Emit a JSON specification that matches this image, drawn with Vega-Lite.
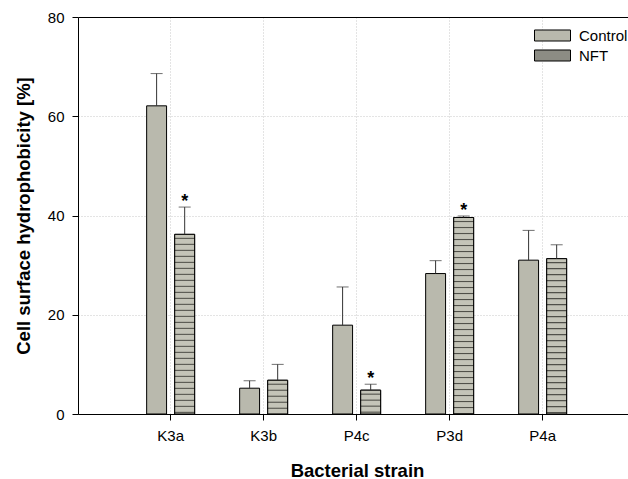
{
  "$schema": "https://vega.github.io/schema/vega-lite/v6.json",
  "width": 550,
  "height": 397,
  "autosize": {"type": "none"},
  "padding": {"left": 78, "top": 17, "right": 0, "bottom": 65},
  "background": "white",
  "config": {
    "font": "Liberation Sans",
    "view": {"stroke": null},
    "axis": {"labelColor": "black", "titleColor": "black", "domainColor": "black", "tickColor": "black", "domainWidth": 1, "tickWidth": 1}
  },
  "params": [
    {"name": "stripes", "value": [
      {"offset":0,"color":"#c4c4b8"},{"offset":0.0147,"color":"#c4c4b8"},{"offset":0.0191,"color":"#45453f"},{"offset":0.025,"color":"#c4c4b8"},
      {"offset":0.0294,"color":"#c4c4b8"},{"offset":0.0441,"color":"#c4c4b8"},{"offset":0.0485,"color":"#45453f"},{"offset":0.0544,"color":"#c4c4b8"},
      {"offset":0.0588,"color":"#c4c4b8"},{"offset":0.0735,"color":"#c4c4b8"},{"offset":0.0779,"color":"#45453f"},{"offset":0.0838,"color":"#c4c4b8"},
      {"offset":0.0882,"color":"#c4c4b8"},{"offset":0.1029,"color":"#c4c4b8"},{"offset":0.1074,"color":"#45453f"},{"offset":0.1132,"color":"#c4c4b8"},
      {"offset":0.1176,"color":"#c4c4b8"},{"offset":0.1324,"color":"#c4c4b8"},{"offset":0.1368,"color":"#45453f"},{"offset":0.1426,"color":"#c4c4b8"},
      {"offset":0.1471,"color":"#c4c4b8"},{"offset":0.1618,"color":"#c4c4b8"},{"offset":0.1662,"color":"#45453f"},{"offset":0.1721,"color":"#c4c4b8"},
      {"offset":0.1765,"color":"#c4c4b8"},{"offset":0.1912,"color":"#c4c4b8"},{"offset":0.1956,"color":"#45453f"},{"offset":0.2015,"color":"#c4c4b8"},
      {"offset":0.2059,"color":"#c4c4b8"},{"offset":0.2206,"color":"#c4c4b8"},{"offset":0.225,"color":"#45453f"},{"offset":0.2309,"color":"#c4c4b8"},
      {"offset":0.2353,"color":"#c4c4b8"},{"offset":0.25,"color":"#c4c4b8"},{"offset":0.2544,"color":"#45453f"},{"offset":0.2603,"color":"#c4c4b8"},
      {"offset":0.2647,"color":"#c4c4b8"},{"offset":0.2794,"color":"#c4c4b8"},{"offset":0.2838,"color":"#45453f"},{"offset":0.2897,"color":"#c4c4b8"},
      {"offset":0.2941,"color":"#c4c4b8"},{"offset":0.3088,"color":"#c4c4b8"},{"offset":0.3132,"color":"#45453f"},{"offset":0.3191,"color":"#c4c4b8"},
      {"offset":0.3235,"color":"#c4c4b8"},{"offset":0.3382,"color":"#c4c4b8"},{"offset":0.3426,"color":"#45453f"},{"offset":0.3485,"color":"#c4c4b8"},
      {"offset":0.3529,"color":"#c4c4b8"},{"offset":0.3676,"color":"#c4c4b8"},{"offset":0.3721,"color":"#45453f"},{"offset":0.3779,"color":"#c4c4b8"},
      {"offset":0.3824,"color":"#c4c4b8"},{"offset":0.3971,"color":"#c4c4b8"},{"offset":0.4015,"color":"#45453f"},{"offset":0.4074,"color":"#c4c4b8"},
      {"offset":0.4118,"color":"#c4c4b8"},{"offset":0.4265,"color":"#c4c4b8"},{"offset":0.4309,"color":"#45453f"},{"offset":0.4368,"color":"#c4c4b8"},
      {"offset":0.4412,"color":"#c4c4b8"},{"offset":0.4559,"color":"#c4c4b8"},{"offset":0.4603,"color":"#45453f"},{"offset":0.4662,"color":"#c4c4b8"},
      {"offset":0.4706,"color":"#c4c4b8"},{"offset":0.4853,"color":"#c4c4b8"},{"offset":0.4897,"color":"#45453f"},{"offset":0.4956,"color":"#c4c4b8"},
      {"offset":0.5,"color":"#c4c4b8"},{"offset":0.5147,"color":"#c4c4b8"},{"offset":0.5191,"color":"#45453f"},{"offset":0.525,"color":"#c4c4b8"},
      {"offset":0.5294,"color":"#c4c4b8"},{"offset":0.5441,"color":"#c4c4b8"},{"offset":0.5485,"color":"#45453f"},{"offset":0.5544,"color":"#c4c4b8"},
      {"offset":0.5588,"color":"#c4c4b8"},{"offset":0.5735,"color":"#c4c4b8"},{"offset":0.5779,"color":"#45453f"},{"offset":0.5838,"color":"#c4c4b8"},
      {"offset":0.5882,"color":"#c4c4b8"},{"offset":0.6029,"color":"#c4c4b8"},{"offset":0.6074,"color":"#45453f"},{"offset":0.6132,"color":"#c4c4b8"},
      {"offset":0.6176,"color":"#c4c4b8"},{"offset":0.6324,"color":"#c4c4b8"},{"offset":0.6368,"color":"#45453f"},{"offset":0.6426,"color":"#c4c4b8"},
      {"offset":0.6471,"color":"#c4c4b8"},{"offset":0.6618,"color":"#c4c4b8"},{"offset":0.6662,"color":"#45453f"},{"offset":0.6721,"color":"#c4c4b8"},
      {"offset":0.6765,"color":"#c4c4b8"},{"offset":0.6912,"color":"#c4c4b8"},{"offset":0.6956,"color":"#45453f"},{"offset":0.7015,"color":"#c4c4b8"},
      {"offset":0.7059,"color":"#c4c4b8"},{"offset":0.7206,"color":"#c4c4b8"},{"offset":0.725,"color":"#45453f"},{"offset":0.7309,"color":"#c4c4b8"},
      {"offset":0.7353,"color":"#c4c4b8"},{"offset":0.75,"color":"#c4c4b8"},{"offset":0.7544,"color":"#45453f"},{"offset":0.7603,"color":"#c4c4b8"},
      {"offset":0.7647,"color":"#c4c4b8"},{"offset":0.7794,"color":"#c4c4b8"},{"offset":0.7838,"color":"#45453f"},{"offset":0.7897,"color":"#c4c4b8"},
      {"offset":0.7941,"color":"#c4c4b8"},{"offset":0.8088,"color":"#c4c4b8"},{"offset":0.8132,"color":"#45453f"},{"offset":0.8191,"color":"#c4c4b8"},
      {"offset":0.8235,"color":"#c4c4b8"},{"offset":0.8382,"color":"#c4c4b8"},{"offset":0.8426,"color":"#45453f"},{"offset":0.8485,"color":"#c4c4b8"},
      {"offset":0.8529,"color":"#c4c4b8"},{"offset":0.8676,"color":"#c4c4b8"},{"offset":0.8721,"color":"#45453f"},{"offset":0.8779,"color":"#c4c4b8"},
      {"offset":0.8824,"color":"#c4c4b8"},{"offset":0.8971,"color":"#c4c4b8"},{"offset":0.9015,"color":"#45453f"},{"offset":0.9074,"color":"#c4c4b8"},
      {"offset":0.9118,"color":"#c4c4b8"},{"offset":0.9265,"color":"#c4c4b8"},{"offset":0.9309,"color":"#45453f"},{"offset":0.9368,"color":"#c4c4b8"},
      {"offset":0.9412,"color":"#c4c4b8"},{"offset":0.9559,"color":"#c4c4b8"},{"offset":0.9603,"color":"#45453f"},{"offset":0.9662,"color":"#c4c4b8"},
      {"offset":0.9706,"color":"#c4c4b8"},{"offset":0.9853,"color":"#c4c4b8"},{"offset":0.9897,"color":"#45453f"},{"offset":0.9956,"color":"#c4c4b8"},
      {"offset":1,"color":"#c4c4b8"}
    ]}
  ],
  "data": {"values": [
    {"strain": "K3a", "treatment": "Control", "value": 62.1, "upper": 68.6, "sig": false},
    {"strain": "K3a", "treatment": "NFT", "value": 36.2, "upper": 41.7, "sig": true},
    {"strain": "K3b", "treatment": "Control", "value": 5.2, "upper": 6.7, "sig": false},
    {"strain": "K3b", "treatment": "NFT", "value": 6.8, "upper": 10.0, "sig": false},
    {"strain": "P4c", "treatment": "Control", "value": 17.9, "upper": 25.6, "sig": false},
    {"strain": "P4c", "treatment": "NFT", "value": 4.8, "upper": 6.0, "sig": true},
    {"strain": "P3d", "treatment": "Control", "value": 28.3, "upper": 30.9, "sig": false},
    {"strain": "P3d", "treatment": "NFT", "value": 39.6, "upper": 39.9, "sig": true},
    {"strain": "P4a", "treatment": "Control", "value": 31.0, "upper": 37.0, "sig": false},
    {"strain": "P4a", "treatment": "NFT", "value": 31.3, "upper": 34.1, "sig": false}
  ]},
  "encoding": {
    "x": {
      "field": "strain", "type": "nominal",
      "sort": ["K3a", "K3b", "P4c", "P3d", "P4a"],
      "scale": {"paddingInner": 0.484, "paddingOuter": 0.699, "align": 0.528},
      "axis": {
        "title": "Bacterial strain", "labelAngle": 0, "labelFontSize": 15, "labelPadding": 8,
        "tickSize": 6, "grid": true, "gridColor": "#c8c8c8", "gridDash": [1, 2], "bandPosition": 0.5,
        "titleFontSize": 18.5, "titleFontWeight": "bold", "titleX": 279, "titleY": 62, "titleBaseline": "alphabetic"
      }
    },
    "xOffset": {"field": "treatment", "type": "nominal", "scale": {"domain": ["Control", "NFT"], "paddingInner": 0.29, "paddingOuter": 0}}
  },
  "layer": [
    {
      "mark": {"type": "bar", "stroke": "black", "strokeWidth": 1},
      "encoding": {
        "y": {
          "field": "value", "type": "quantitative",
          "scale": {"domain": [0, 80], "nice": false},
          "axis": {
            "title": "Cell surface hydrophobicity [%]", "values": [0, 20, 40, 60, 80],
            "labelFontSize": 15, "labelPadding": 8, "tickSize": 6,
            "grid": true,
            "gridColor": {"condition": {"test": "datum.value === 80", "value": "black"}, "value": "#c8c8c8"},
            "gridDash": {"condition": {"test": "datum.value === 80", "value": []}, "value": [1, 2]},
            "titleFontSize": 18.5, "titleFontWeight": "bold", "titleX": -49, "titleY": 198.5,
            "titleBaseline": "alphabetic", "titleAlign": "center", "titleAngle": -90
          }
        },
        "color": {
          "field": "treatment", "type": "nominal",
          "scale": {"domain": ["Control", "NFT"], "range": ["#b9b9ad", "#8c8c84"]},
          "legend": {
            "orient": "none", "legendX": 455, "legendY": 11, "title": null,
            "symbolType": "M-1,-0.917H5V0.917H-1Z", "symbolSize": 144,
            "symbolStrokeColor": "black", "symbolStrokeWidth": 1, "symbolOpacity": 1,
            "labelFontSize": 15, "labelColor": "black", "labelOffset": 31, "rowPadding": 3, "padding": 0,
            "encode": {
              "symbols": {
                "update": {
                  "fill": [
                    {"test": "datum.value === 'NFT'", "value": {"gradient": "linear", "x1": 0, "y1": 0, "x2": 0, "y2": 1, "stops": [
                      {"offset": 0, "color": "#c4c4b8"}, {"offset": 0.1, "color": "#c4c4b8"}, {"offset": 0.2, "color": "#45453f"}, {"offset": 0.3, "color": "#c4c4b8"},
                      {"offset": 0.55, "color": "#c4c4b8"}, {"offset": 0.67, "color": "#45453f"}, {"offset": 0.79, "color": "#c4c4b8"},
                      {"offset": 1, "color": "#c4c4b8"}
                    ]}},
                    {"value": "#b9b9ad"}
                  ],
                  "stroke": {"value": "black"}
                }
              }
            }
          }
        }
      }
    },
    {
      "transform": [{"filter": "datum.treatment === 'NFT'"}],
      "mark": {
        "type": "bar", "stroke": "black", "strokeWidth": 1,
        "fill": {"expr": "{gradient: 'linear', x1: 0, y1: 0, x2: 0, y2: 41.11 / datum.value, stops: stripes}"}
      },
      "encoding": {
        "y": {"field": "value", "type": "quantitative", "title": "Cell surface hydrophobicity [%]"}
      }
    },
    {
      "mark": {"type": "rule", "color": "#333333", "strokeWidth": 1},
      "encoding": {
        "y": {"field": "value", "type": "quantitative", "title": "Cell surface hydrophobicity [%]"},
        "y2": {"field": "upper"}
      }
    },
    {
      "mark": {"type": "tick", "color": "#333333", "thickness": 1, "size": 12, "orient": "horizontal"},
      "encoding": {
        "y": {"field": "upper", "type": "quantitative", "title": "Cell surface hydrophobicity [%]"}
      }
    },
    {
      "transform": [{"filter": "datum.sig"}],
      "mark": {"type": "text", "text": "*", "fontSize": 18, "fontWeight": "bold", "baseline": "alphabetic", "dy": 0, "color": "black"},
      "encoding": {
        "y": {"field": "upper", "type": "quantitative", "title": "Cell surface hydrophobicity [%]"}
      }
    }
  ]
}
